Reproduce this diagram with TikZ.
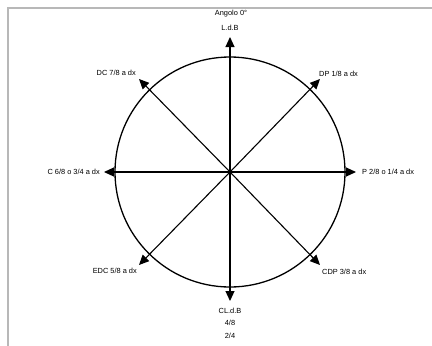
\documentclass[tikz,border=0pt]{standalone}
\usepackage{fontspec}
\setmainfont{Liberation Sans}
\usetikzlibrary{arrows.meta,positioning}
\definecolor{frame}{gray}{0.72}

\begin{document}
\begin{tikzpicture}[x=1pt, y=-1pt, every node/.style={font=\fontsize{7.4}{8}\selectfont, inner sep=1pt},
    axis/.style={line width=1.1pt, -{Triangle[length=10pt, width=9pt]}}]
    \useasboundingbox (0,0) rectangle (432,346);
    \draw[frame, line width=1.2pt] (8,346) -- (8,8) -- (432,8);
    \coordinate (o) at (230,172);
    \draw[line width=1.3pt] (o) circle (115);
    % axes
    \coordinate (n) at (230,37);
    \coordinate (s) at (230,301);
    \coordinate (w) at (104,172);
    \coordinate (e) at (356,172);
    \coordinate (nw) at (139,79);
    \coordinate (ne) at (320,79);
    \coordinate (sw) at (139,265);
    \coordinate (se) at (320,265);
    \foreach \p in {n,s,w,e,nw,ne,sw,se}{
      \draw[axis] (o) -- (\p);
    }
    % labels
    \node (top1) at (231,14) {Angolo 0°};
    \node (top2) at (230,28) {L.d.B};
    \node[anchor=east] (dc) at (137,73) {DC 7/8 a dx};
    \node[anchor=west] (dp) at (318,74) {DP 1/8 a dx};
    \node[anchor=east] (c) at (101,172) {C 6/8 o 3/4 a dx};
    \node[anchor=west] (p) at (361,172) {P 2/8 o 1/4 a dx};
    \node[anchor=east] (edc) at (138,271) {EDC 5/8 a dx};
    \node[anchor=west] (cdp) at (321,272) {CDP 3/8 a dx};
    \node (bot1) at (230,311) {CL.d.B};
    \node (bot2) at (230,323) {4/8};
    \node (bot3) at (230,336) {2/4};
\end{tikzpicture}
\end{document}
